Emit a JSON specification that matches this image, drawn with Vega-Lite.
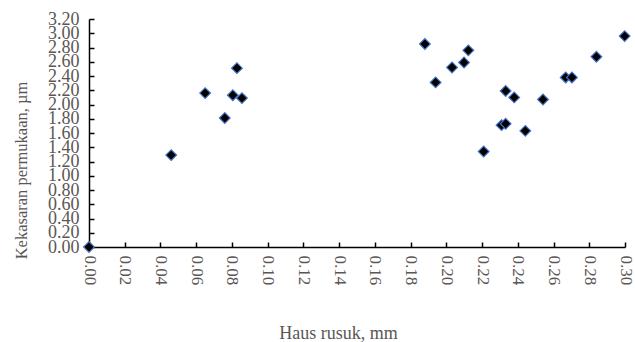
{
  "$schema": "https://vega.github.io/schema/vega-lite/v6.json",
  "width": 536,
  "height": 228,
  "autosize": {"type": "none"},
  "padding": {"left": 89, "top": 19, "right": 10, "bottom": 95},
  "background": "white",
  "config": {"view": {"stroke": null}},
  "data": {"values": [
    {"haus": 0.0, "kekasaran": 0.0},
    {"haus": 0.046, "kekasaran": 1.29},
    {"haus": 0.065, "kekasaran": 2.16},
    {"haus": 0.076, "kekasaran": 1.81},
    {"haus": 0.0805, "kekasaran": 2.13},
    {"haus": 0.0828, "kekasaran": 2.51},
    {"haus": 0.0856, "kekasaran": 2.09},
    {"haus": 0.188, "kekasaran": 2.85},
    {"haus": 0.194, "kekasaran": 2.31},
    {"haus": 0.2032, "kekasaran": 2.52},
    {"haus": 0.2099, "kekasaran": 2.59},
    {"haus": 0.2123, "kekasaran": 2.76},
    {"haus": 0.2209, "kekasaran": 1.34},
    {"haus": 0.2309, "kekasaran": 1.71},
    {"haus": 0.2332, "kekasaran": 1.73},
    {"haus": 0.2332, "kekasaran": 2.19},
    {"haus": 0.238, "kekasaran": 2.1},
    {"haus": 0.2442, "kekasaran": 1.63},
    {"haus": 0.2541, "kekasaran": 2.07},
    {"haus": 0.2668, "kekasaran": 2.38},
    {"haus": 0.2703, "kekasaran": 2.38},
    {"haus": 0.284, "kekasaran": 2.67},
    {"haus": 0.2998, "kekasaran": 2.96}
  ]},
  "mark": {"type": "point", "shape": "diamond", "filled": true, "fill": "black", "stroke": "#4472c4", "strokeWidth": 1.2, "size": 115, "opacity": 1, "clip": false},
  "encoding": {
    "x": {"field": "haus", "type": "quantitative",
      "scale": {"domain": [0, 0.3], "nice": false, "zero": false},
      "axis": {"title": "Haus rusuk, mm", "values": [0,0.02,0.04,0.06,0.08,0.1,0.12,0.14,0.16,0.18,0.2,0.22,0.24,0.26,0.28,0.3],
        "format": ".2f", "labelAngle": 90, "labelAlign": "left", "labelBaseline": "middle", "labelOverlap": false, "labelFlush": false,
        "grid": false, "domainColor": "black", "domainWidth": 1.5, "tickColor": "black", "tickWidth": 1.5, "tickSize": -5, "labelPadding": 13,
        "labelFont": "Liberation Serif", "labelFontSize": 17, "labelColor": "#5b5654",
        "titleFont": "Liberation Serif", "titleFontSize": 18, "titleFontWeight": "normal", "titleColor": "#5b5654",
        "titleX": 249, "titleY": 91, "titleAlign": "center", "titleBaseline": "alphabetic"}},
    "y": {"field": "kekasaran", "type": "quantitative",
      "scale": {"domain": [0, 3.2], "nice": false},
      "axis": {"title": "Kekasaran permukaan, µm", "values": [0,0.2,0.4,0.6,0.8,1,1.2,1.4,1.6,1.8,2,2.2,2.4,2.6,2.8,3,3.2],
        "format": ".2f", "grid": false, "labelOverlap": false, "labelFlush": false, "labelBound": false,
        "domainColor": "black", "domainWidth": 1.5, "tickColor": "black", "tickWidth": 1.5, "tickSize": -5, "labelPadding": 15,
        "labelFont": "Liberation Serif", "labelFontSize": 18, "labelColor": "#5b5654",
        "titleFont": "Liberation Serif", "titleFontSize": 16.5, "titleFontWeight": "normal", "titleColor": "#5b5654",
        "titleX": -68, "titleY": 151, "titleAlign": "center", "titleBaseline": "middle", "titleAngle": -90}}
  }
}
